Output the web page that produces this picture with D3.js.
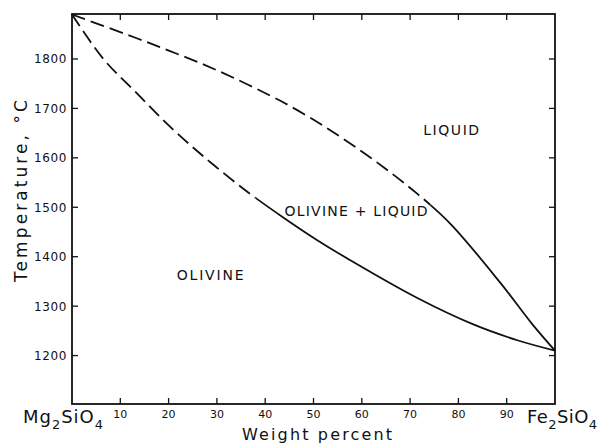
<!DOCTYPE html>
<html>
<head>
<meta charset="utf-8">
<script src="https://cdn.jsdelivr.net/npm/d3@7"></script>
<style>
  html, body { margin: 0; padding: 0; background: #fff; }
  svg { display: block; }
  text { font-family: "DejaVu Sans", sans-serif; fill: #111; }
</style>
</head>
<body>
<svg id="chart" width="599" height="444"></svg>
<script>
// ---- data (weight percent Fe2SiO4 vs temperature °C) ----
const xTicks = [10, 20, 30, 40, 50, 60, 70, 80, 90];
const yTicks = [1200, 1300, 1400, 1500, 1600, 1700, 1800];

// liquidus (upper curve)
const liquidusX = [0, 13.4, 20.3, 27.2, 34.1, 41.0, 43.8, 50.7, 57.6, 64.5, 71.4, 78.3, 88.7, 95.5, 100];
const liquidusT = [1890, 1842, 1816, 1789, 1759, 1726, 1712, 1673, 1629, 1581, 1528, 1467, 1347, 1261, 1210];
const liquidusDashedUntil = 74.2;

// solidus (lower curve)
const solidusX = [0, 6.5, 13.4, 20.3, 27.2, 34.1, 38.0, 43.8, 50.7, 57.6, 71.4, 83.1, 92.2, 100];
const solidusT = [1890, 1800, 1731, 1663, 1603, 1548, 1519, 1479, 1434, 1393, 1317, 1263, 1231, 1210];
const solidusDashedUntil = 38.0;

// field labels
const fieldNames = ["LIQUID", "OLIVINE + LIQUID", "OLIVINE"];
const fieldX = [78.5, 58.8, 28.6];
const fieldT = [1646, 1482, 1353];
const fieldWidths = [56, 143, 67];

// ---- layout ----
const svg = d3.select("#chart");
const x = d3.scaleLinear().domain([0, 100]).range([72, 555]);
const y = d3.scaleLinear().domain([1100, 1891]).range([405, 14]);
const [x0, x1] = x.range();
const yTop = 14, yBot = 404;
const ink = "#111";

// frame
svg.append("rect")
  .attr("x", x0).attr("y", yTop)
  .attr("width", x1 - x0).attr("height", yBot - yTop)
  .attr("fill", "none").attr("stroke", ink).attr("stroke-width", 1.8);

// ticks (inward on all four sides)
const tl = 6;
const tk = svg.append("g").attr("stroke", ink).attr("stroke-width", 1.3);
xTicks.forEach(v => {
  tk.append("line").attr("x1", x(v)).attr("x2", x(v)).attr("y1", yBot).attr("y2", yBot - tl);
  tk.append("line").attr("x1", x(v)).attr("x2", x(v)).attr("y1", yTop).attr("y2", yTop + tl);
});
yTicks.forEach(v => {
  tk.append("line").attr("x1", x0).attr("x2", x0 + tl).attr("y1", y(v)).attr("y2", y(v));
  tk.append("line").attr("x1", x1).attr("x2", x1 - tl).attr("y1", y(v)).attr("y2", y(v));
});

// tick labels
svg.append("g").selectAll("text").data(xTicks).join("text")
  .attr("x", d => x(d)).attr("y", 418)
  .attr("text-anchor", "middle")
  .attr("font-size", 11)
  .text(d => d);

svg.append("g").selectAll("text").data(yTicks).join("text")
  .attr("x", 67).attr("y", d => y(d) + 4.5)
  .attr("text-anchor", "end")
  .attr("font-size", 12)
  .attr("letter-spacing", 0.6)
  .text(d => d);

// end-member labels with subscripts
function formula(parts, xs, width) {
  const t = svg.append("text").attr("x", xs).attr("y", 423).attr("font-size", 18)
    .attr("textLength", width).attr("lengthAdjust", "spacing");
  let shifted = false;
  parts.forEach(([s, sub]) => {
    const sp = t.append("tspan").text(s);
    if (sub) { sp.attr("dy", 6).attr("font-size", 13); shifted = true; }
    else { sp.attr("dy", shifted ? -6 : 0); shifted = false; }
  });
}
formula([["Mg", false], ["2", true], ["SiO", false], ["4", true]], 23, 80);
formula([["Fe", false], ["2", true], ["SiO", false], ["4", true]], 527, 70);

// axis titles
svg.append("text")
  .attr("x", 242).attr("y", 440)
  .attr("font-size", 16)
  .attr("textLength", 150).attr("lengthAdjust", "spacing")
  .text("Weight  percent");

svg.append("text")
  .attr("transform", "translate(27,191) rotate(-90)")
  .attr("text-anchor", "middle")
  .attr("font-size", 17)
  .attr("textLength", 182).attr("lengthAdjust", "spacing")
  .text("Temperature, °C");

// curves
const line = d3.line().x(d => x(d[0])).y(d => y(d[1])).curve(d3.curveCatmullRom.alpha(0.5));
const defs = svg.append("defs");
function drawCurve(xs, ts, dashedUntil, id) {
  const pts = xs.map((v, i) => [v, ts[i]]);
  const xb = x(dashedUntil);
  defs.append("clipPath").attr("id", id + "-dash")
    .append("rect").attr("x", 0).attr("y", 0).attr("width", xb).attr("height", 444);
  defs.append("clipPath").attr("id", id + "-solid")
    .append("rect").attr("x", xb).attr("y", 0).attr("width", 599 - xb).attr("height", 444);
  svg.append("path").datum(pts).attr("d", line)
    .attr("fill", "none").attr("stroke", ink).attr("stroke-width", 1.8)
    .attr("stroke-dasharray", "14,6")
    .attr("clip-path", `url(#${id}-dash)`);
  svg.append("path").datum(pts).attr("d", line)
    .attr("fill", "none").attr("stroke", ink).attr("stroke-width", 1.8)
    .attr("clip-path", `url(#${id}-solid)`);
}
drawCurve(liquidusX, liquidusT, liquidusDashedUntil, "liq");
drawCurve(solidusX, solidusT, solidusDashedUntil, "sol");

// field labels
svg.append("g").selectAll("text").data(fieldNames).join("text")
  .attr("x", (d, i) => x(fieldX[i]) - fieldWidths[i] / 2)
  .attr("y", (d, i) => y(fieldT[i]))
  .attr("font-size", 14)
  .attr("textLength", (d, i) => fieldWidths[i])
  .attr("lengthAdjust", "spacing")
  .text(d => d);
</script>
</body>
</html>
